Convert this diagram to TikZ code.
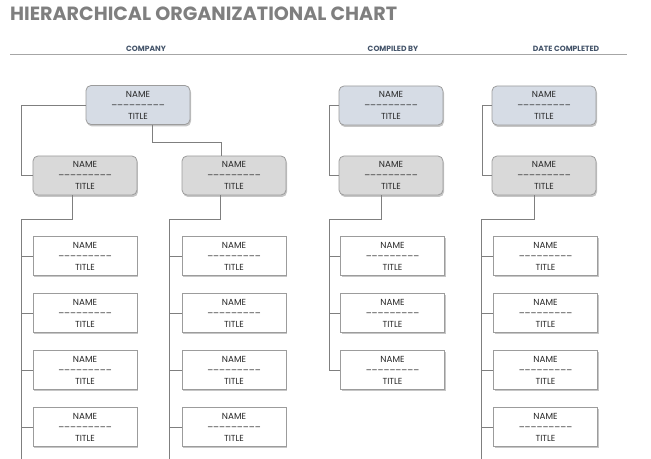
\documentclass[tikz,border=0pt]{standalone}
\usepackage{fontspec}
\setmainfont{Poppins}
\usetikzlibrary{positioning, shadows}
\definecolor{ttlgray}{HTML}{7F7F7F}
\definecolor{hdblue}{HTML}{44546A}
\definecolor{rulegray}{HTML}{A6A6A6}
\definecolor{linegray}{HTML}{7F7F7F}
\definecolor{boxgray}{HTML}{9C9C9C}
\definecolor{topfill}{HTML}{D6DCE5}
\definecolor{midfill}{HTML}{D9D9D9}
\definecolor{txtdark}{HTML}{262626}
\newcommand{\nametitle}{NAME\\–––––––––\\TITLE}

\begin{document}
\begin{tikzpicture}[
  x=1bp, y=-1bp,
  card/.style={
    draw=boxgray, line width=0.8pt, fill=#1, minimum width=104bp,
    minimum height=39bp, inner sep=0pt, align=center, text=txtdark,
    font=\fontsize{8.8}{11}\selectfont,
    drop shadow={shadow xshift=1pt, shadow yshift=-2pt, opacity=0.45}
  },
  lead/.style={card=#1, rounded corners=5bp},
  leaf/.style={card=white},
  link/.style={draw=linegray, line width=0.9pt},
  colhd/.style={font=\bfseries\fontsize{7.6}{9}\selectfont, text=hdblue},
]

\useasboundingbox (0,0) rectangle (651,459);
\coordinate (foot) at (0,459);

% Title
\node[anchor=west, inner sep=0pt, text=ttlgray,
      font=\bfseries\fontsize{19.2}{22}\selectfont] (title) at (10,14)
  {HIERARCHICAL ORGANIZATIONAL CHART};

% =============================================
% Header: company -- compiled by -- date
% =============================================
\node[colhd] (company) at (146,49) {COMPANY};
\node[colhd] (compiled) at (393,49) {COMPILED BY};
\node[colhd] (datecpl) at (566,49) {DATE COMPLETED};
\coordinate (hl) at (10,54);
\coordinate (hr) at (627,54);
\draw[rulegray, line width=0.8pt] (hl) -- (hr);

% =============================================
% Company: two branches
% =============================================
\node[lead=topfill] (t1) at (138,105) {\nametitle};
\node[lead=midfill] (m1) at (85,175.5) {\nametitle};
\node[lead=midfill] (m2) at (234,175.5) {\nametitle};
\foreach \i/\y in {1/256,2/313,3/370,4/427} {
  \node[leaf] (a\i) at (85,\y) {\nametitle};
  \node[leaf] (b\i) at (234,\y) {\nametitle};
}

\coordinate (k1) at (21,0);
\coordinate (k2) at (169,0);
\coordinate (j1) at (152,142);
\coordinate (j2) at (221,142);
\coordinate (e1) at (72,219);
\coordinate (e2) at (220,219);

\draw[link] (t1.west) -- (t1.west -| k1) |- (m1.west);
\draw[link] (t1.south -| j1) -- (j1) -- (j2) -- (j2 |- m2.north);
\draw[link] (m1.south -| e1) -- (e1) -- (e1 -| k1) -- (k1 |- foot);
\draw[link] (m2.south -| e2) -- (e2) -- (e2 -| k2) -- (k2 |- foot);
\foreach \i in {1,...,4} {
  \draw[link] (a\i.west) -- (a\i.west -| k1);
  \draw[link] (b\i.west) -- (b\i.west -| k2);
}

% =============================================
% Compiled by
% =============================================
\node[lead=topfill] (t3) at (391,105.5) {\nametitle};
\node[lead=midfill] (m3) at (391,175.5) {\nametitle};
\foreach \i/\y in {1/256,2/313,3/370} {
  \node[leaf] (c\i) at (392.5,\y) {\nametitle};
}

\coordinate (k3) at (329,0);
\coordinate (e3) at (381,219);
\draw[link] (t3.west) -- (t3.west -| k3) |- (m3.west);
\draw[link] (m3.south -| e3) -- (e3) -- (e3 -| k3) |- (c3.west);
\draw[link] (c1.west) -- (c1.west -| k3);
\draw[link] (c2.west) -- (c2.west -| k3);

% =============================================
% Date completed
% =============================================
\node[lead=topfill] (t4) at (544,105.5) {\nametitle};
\node[lead=midfill] (m4) at (544,175.5) {\nametitle};
\foreach \i/\y in {1/256,2/313,3/370,4/427} {
  \node[leaf] (d\i) at (545.5,\y) {\nametitle};
}

\coordinate (k4) at (482,0);
\coordinate (k5) at (481,0);
\coordinate (e4) at (534,219);
\draw[link] (t4.west) -- (t4.west -| k4) |- (m4.west);
\draw[link] (m4.south -| e4) -- (e4) -- (e4 -| k5) -- (k5 |- foot);
\foreach \i in {1,...,4} {
  \draw[link] (d\i.west) -- (d\i.west -| k5);
}

\end{tikzpicture}
\end{document}
